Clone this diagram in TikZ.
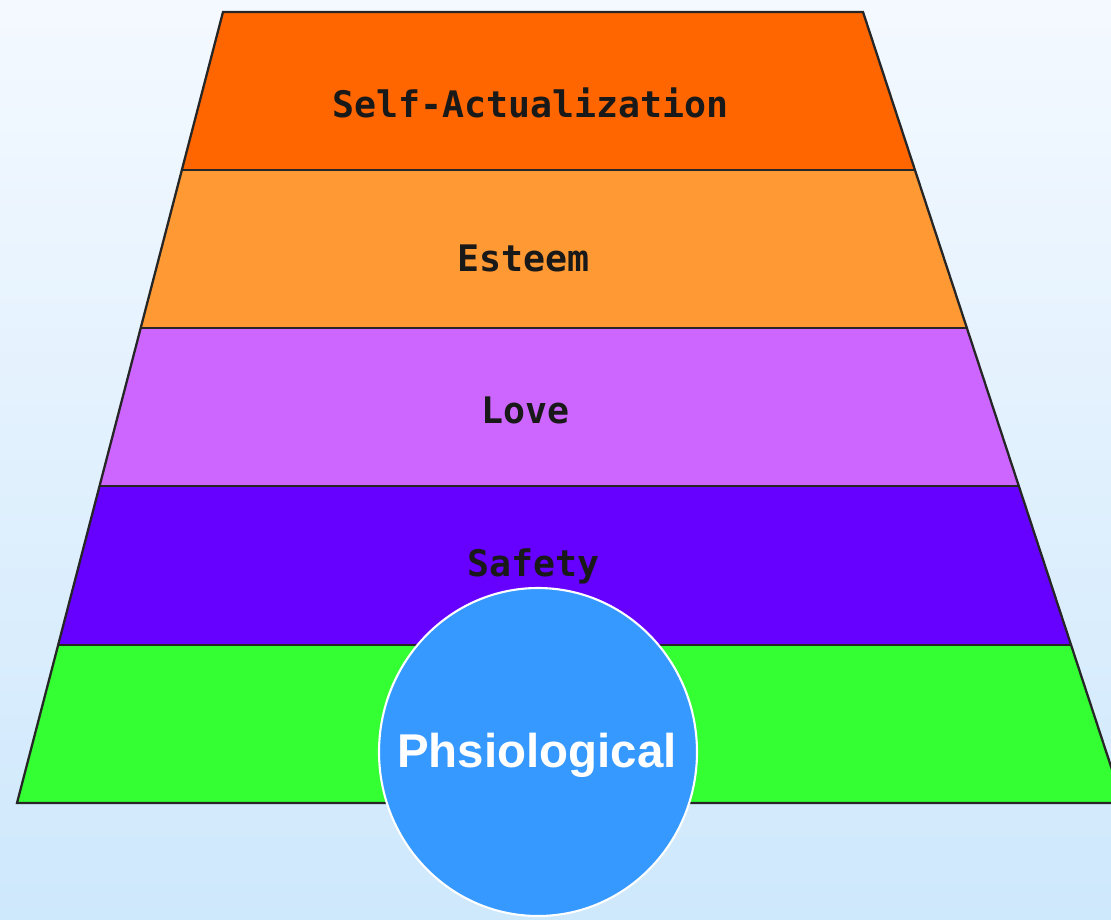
\documentclass[tikz,border=0pt]{standalone}
\usepackage{fontspec}
\usepackage{tikz}
\newfontfamily\stepfont{DejaVu Sans Mono}
\newfontfamily\circfont{Liberation Sans}
\definecolor{skytop}{RGB}{244,249,255}
\definecolor{skybottom}{RGB}{206,232,252}
\definecolor{selfcol}{RGB}{255,102,0}
\definecolor{esteemcol}{RGB}{255,153,51}
\definecolor{lovecol}{RGB}{204,102,255}
\definecolor{safetycol}{RGB}{102,0,255}
\definecolor{physcol}{RGB}{51,255,51}
\definecolor{bubble}{RGB}{54,153,255}

\begin{document}
\begin{tikzpicture}[
    x=0.02cm, y=-0.02cm,
    band/.style={
        draw=black!85,
        line width=1.3pt,
        line join=miter
    },
    steplabel/.style={
        font=\stepfont\bfseries\fontsize{20.8}{24}\selectfont,
        text=black!90,
        inner sep=0pt
    },
    bubblelabel/.style={
        font=\circfont\bfseries\fontsize{27}{30}\selectfont,
        text=white,
        inner sep=0pt
    }
]

% ---------------- Frame ----------------
\useasboundingbox (0,0) rectangle (1111,919);
\clip (0,0) rectangle (1111,919);
\shade[top color=skytop, bottom color=skybottom] (0,0) rectangle (1111,919);

% ---------------- Steps ----------------
\fill[selfcol]   (223,12)  -- (863,12)  -- (915,170)  -- (182,170) -- cycle;
\fill[esteemcol] (182,170) -- (915,170) -- (967,328)  -- (141,328) -- cycle;
\fill[lovecol]   (141,328) -- (967,328) -- (1019,486) -- (100,486) -- cycle;
\fill[safetycol] (100,486) -- (1019,486) -- (1071,645) -- (58,645) -- cycle;
\fill[physcol]   (58,645)  -- (1071,645) -- (1123,803) -- (17,803) -- cycle;

\draw[band] (223,12) -- (863,12) -- (1123,803) -- (17,803) -- cycle;
\draw[band] (182,170) -- (915,170);
\draw[band] (141,328) -- (967,328);
\draw[band] (100,486) -- (1019,486);
\draw[band] (58,645)  -- (1071,645);

\node[steplabel] (self)   at (531,103) {Self-Actualization};
\node[steplabel] (esteem) at (523,258) {Esteem};
\node[steplabel] (love)   at (525,410) {Love};
\node[steplabel] (safety) at (533,566) {Safety};

% ---------------- Base ----------------
\draw[fill=bubble, draw=white, line width=1.2pt] (538,752) ellipse [x radius=159, y radius=164];
\node[bubblelabel] (phys) at (537,755) {Phsiological};

\end{tikzpicture}
\end{document}
